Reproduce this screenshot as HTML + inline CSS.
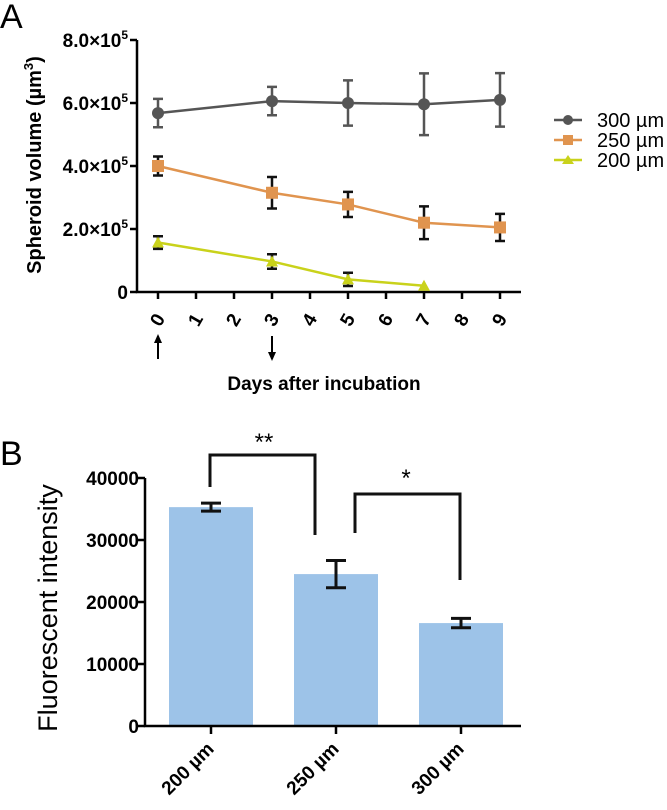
<!DOCTYPE html>
<html><head><meta charset="utf-8"><style>
body{margin:0;background:#fff;width:667px;height:805px;overflow:hidden}
svg{font-family:"Liberation Sans",Arial,sans-serif}
</style></head><body>
<svg id="s" width="667" height="805">
<text x="0" y="28" font-size="34">A</text>
<text x="0" y="465" font-size="34">B</text>
<g id="ga"></g>
<g id="gb"></g>
</svg>
<script>
const days=[0,3,5,7,9];
const v300=[5.68,6.06,6.0,5.96,6.1];
const e300=[0.45,0.45,0.72,0.98,0.85];
const v250=[4.0,3.15,2.78,2.2,2.05];
const e250=[0.3,0.5,0.4,0.52,0.43];
const days200=[0,3,5,7];
const v200=[1.57,0.97,0.4,0.2];
const e200=[0.2,0.23,0.21,0];
const yTicksA=[0,2,4,6,8];
const xTicksA=[0,1,2,3,4,5,6,7,8,9];
const cats=["200  µm","250  µm","300  µm"];
const vals=[35300,24500,16600];
const errs=[650,2200,750];
const yTicksB=[0,10000,20000,30000,40000];
const NS="http://www.w3.org/2000/svg";
function el(p,t,a,txt){const e=document.createElementNS(NS,t);for(const k in a)e.setAttribute(k,a[k]);if(txt!=null)e.textContent=txt;p.appendChild(e);return e;}
const ga=document.getElementById('ga'),gb=document.getElementById('gb');
const xA=d=>158+d*38, yA=v=>292-v*31.5;
let ax=el(ga,'path',{d:`M137 ${yA(8)} V292 H521`,stroke:'#000','stroke-width':2.5,fill:'none'});

yTicksA.forEach(t=>{
  let l=el(ga,'line',{x1:130,x2:137,y1:yA(t),y2:yA(t),stroke:'#000','stroke-width':2.5});
  
  let tx;
  if(t===0){tx=el(ga,'text',{x:128,y:yA(t)+7,'text-anchor':'end','font-size':19,'font-weight':'bold'},'0');}
  else{tx=el(ga,'text',{x:128,y:yA(t)+7,'text-anchor':'end','font-size':19,'font-weight':'bold'});
    tx.innerHTML=t.toFixed(1)+'×10<tspan dy="-8" font-size="12">5</tspan>';}
  
});
xTicksA.forEach(d=>{
  let l=el(ga,'line',{x1:xA(d),x2:xA(d),y1:292,y2:299,stroke:'#000','stroke-width':2.5});
  
  let t=el(ga,'text',{x:0,y:0,'text-anchor':'middle','font-size':19,'font-weight':'bold',transform:`translate(${xA(d)+5} 323) rotate(-60)`},String(d));
  
});
let yl=el(ga,'text',{x:0,y:0,'text-anchor':'middle','font-size':20,'font-weight':'bold',transform:'translate(41 165) rotate(-90)'});
yl.innerHTML='Spheroid volume (µm<tspan dy="-8" font-size="13">3</tspan><tspan dy="8">)</tspan>';

let xl=el(ga,'text',{x:324,y:390,'text-anchor':'middle','font-size':19,'font-weight':'bold'},'Days after incubation');

[[158,'up'],[272,'down']].forEach(([x,dir])=>{
  let g=el(ga,'g',{});
  el(g,'line',{x1:x,x2:x,y1:336,y2:359,stroke:'#000','stroke-width':2});
  if(dir==='up')el(g,'path',{d:`M${x-4} 343 L${x} 334 L${x+4} 343Z`,fill:'#000'});
  else el(g,'path',{d:`M${x-4} 352 L${x} 361 L${x+4} 352Z`,fill:'#000'});
});
function series(xs,vs,es,color,ecolor,marker,name){
  let g=el(ga,'g',{});
  el(g,'polyline',{points:xs.map((d,i)=>xA(d)+','+yA(vs[i])).join(' '),fill:'none',stroke:color,'stroke-width':2.5});
  xs.forEach((d,i)=>{
    const x=xA(d),y=yA(vs[i]);
    if(es[i]>0){
      let eb=el(g,'path',{d:`M${x} ${yA(vs[i]+es[i])}V${yA(vs[i]-es[i])}M${x-5} ${yA(vs[i]+es[i])}h10M${x-5} ${yA(vs[i]-es[i])}h10`,stroke:ecolor,'stroke-width':2.5,fill:'none'});
      
    }
    let m;
    if(marker==='c')m=el(g,'circle',{cx:x,cy:y,r:6,fill:color});
    else if(marker==='s')m=el(g,'rect',{x:x-6,y:y-6,width:12,height:12,fill:color});
    else m=el(g,'path',{d:`M${x-6} ${y+5}L${x} ${y-6}L${x+6} ${y+5}Z`,fill:color});
    
  });
}
series(days,v300,e300,'#555','#555','c','300');
series(days,v250,e250,'#e0944f','#111','s','250');
series(days200,v200,e200,'#c9d21b','#111','t','200');
[['300 µm','#555','c'],['250 µm','#e0944f','s'],['200 µm','#c9d21b','t']].forEach(([n,c,m],i)=>{
  const y=120+i*20;
  let g=el(ga,'g',{});
  el(g,'line',{x1:554,x2:582,y1:y,y2:y,stroke:c,'stroke-width':2.5});
  if(m==='c')el(g,'circle',{cx:568,cy:y,r:5,fill:c});
  else if(m==='s')el(g,'rect',{x:563,y:y-5,width:10,height:10,fill:c});
  else el(g,'path',{d:`M562 ${y+4}L568 ${y-5}L574 ${y+4}Z`,fill:c});
  el(g,'text',{x:597,y:y+7,'font-size':20},n);
});
// chart B
const xB=i=>211+i*125, yB=v=>726-v*0.0062;
cats.forEach((c,i)=>{
  let b=el(gb,'rect',{x:xB(i)-42,y:yB(vals[i]),width:84,height:726-yB(vals[i]),fill:'#9dc3e8'});
  
  const x=xB(i),t=yB(vals[i]+errs[i]),bt=yB(vals[i]-errs[i]);
  let eb=el(gb,'path',{d:`M${x} ${t}V${bt}M${x-10} ${t}h20M${x-10} ${bt}h20`,stroke:'#111','stroke-width':3,fill:'none'});
  
  let tk=el(gb,'line',{x1:x,x2:x,y1:726,y2:734,stroke:'#000','stroke-width':2.5});
  
  let lb=el(gb,'text',{x:x+4,y:750,'text-anchor':'end','font-size':19,'font-weight':'bold',transform:`rotate(-45 ${x+4} 750)`},c);
  
});
let axb=el(gb,'path',{d:`M145 ${yB(40000)} V726 H521`,stroke:'#000','stroke-width':2.5,fill:'none'});

yTicksB.forEach(t=>{
  let l=el(gb,'line',{x1:138,x2:145,y1:yB(t),y2:yB(t),stroke:'#000','stroke-width':2.5});
  
  let tx=el(gb,'text',{x:139,y:yB(t)+7,'text-anchor':'end','font-size':19,'font-weight':'bold'},String(t));
  
});
let ylb=el(gb,'text',{x:0,y:0,'text-anchor':'middle','font-size':27,transform:'translate(57 608) rotate(-90)'},'Fluorescent intensity');

let br1=el(gb,'path',{d:'M210 487V455H315V535',stroke:'#111','stroke-width':3,fill:'none'});

let s1=el(gb,'text',{x:264,y:450,'text-anchor':'middle','font-size':24},'**');

let br2=el(gb,'path',{d:'M355 533V494H460V580',stroke:'#111','stroke-width':3,fill:'none'});

let s2=el(gb,'text',{x:406,y:486,'text-anchor':'middle','font-size':24},'*');

</script>
</body></html>
